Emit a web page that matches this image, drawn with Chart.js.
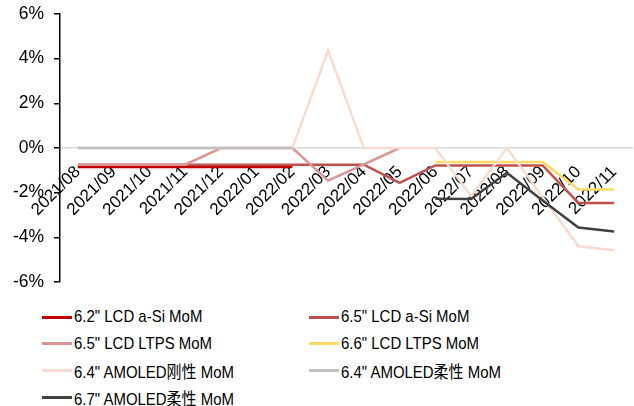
<!DOCTYPE html>
<html>
<head>
<meta charset="utf-8">
<script src="https://cdn.jsdelivr.net/npm/chart.js@4"></script>
<style>
  html, body { margin: 0; padding: 0; background: #fff; }
  #wrap { position: relative; width: 634px; height: 406px; }
  #c { position: absolute; left: 0; top: 0; }
  #legend { position: absolute; left: 42px; top: 304px; width: 592px;
    font-family: "Liberation Sans", Arial, "Noto Sans CJK SC", sans-serif; font-size: 17px; color: #000; }
  .item { position: absolute; height: 26px; display: flex; align-items: center; white-space: nowrap; }
  .swatch { width: 30px; height: 3px; margin-right: 2px; flex: none; }
  .txt { display: inline-block; transform: scaleX(0.88); transform-origin: left center; }
</style>
</head>
<body>
<div id="wrap">
  <canvas id="c" width="634" height="300"></canvas>
  <div id="legend"></div>
</div>
<script>
const categories = ["2021/08","2021/09","2021/10","2021/11","2021/12","2022/01","2022/02","2022/03","2022/04","2022/05","2022/06","2022/07","2022/08","2022/09","2022/10","2022/11"];
const yTicks = [-6, -4, -2, 0, 2, 4, 6];

const lcd62aSi   = [-0.85,-0.85,-0.85,-0.85,-0.85,-0.85,-0.85,null,null,null,null,null,null,null,null,null];
const lcd65aSi   = [-0.75,-0.75,-0.75,-0.75,-0.75,-0.75,-0.75,-0.75,-0.75,-1.56,-0.78,-0.78,-0.78,-0.78,-2.46,-2.46];
const lcd65ltps  = [-0.75,-0.75,-0.75,-0.75,0,0,0,-1.46,-0.73,0,null,null,null,null,null,null];
const lcd66ltps  = [null,null,null,null,null,null,null,null,null,null,-0.63,-0.63,-0.63,-0.63,-1.86,-1.86];
const amoled64rigid = [0,0,0,0,0,0,0,4.36,0,0,0,-2.16,0,-2.2,-4.4,-4.58];
const amoled64flex  = [0,0,0,0,0,0,0,null,null,null,null,null,null,null,null,null];
const amoled67flex  = [null,null,null,null,null,null,null,null,null,null,-2.27,-2.28,-1.11,-2.35,-3.56,-3.74];

const seriesNames = ['6.2" LCD a-Si MoM','6.5" LCD a-Si MoM','6.5" LCD LTPS MoM','6.6" LCD LTPS MoM','6.4" AMOLED刚性 MoM','6.4" AMOLED柔性 MoM','6.7" AMOLED柔性 MoM'];
const seriesData = [lcd62aSi, lcd65aSi, lcd65ltps, lcd66ltps, amoled64rigid, amoled64flex, amoled67flex];
const seriesColors = ['#C00000','#C0504D','#D99694','#FFD966','#F6DBD0','#BFBFBF','#404040'];

const FONT = '"Liberation Sans", Arial, sans-serif';

const datasets = seriesNames.map((n, i) => ({
  label: n,
  data: seriesData[i],
  borderColor: seriesColors[i],
  backgroundColor: seriesColors[i],
  borderWidth: 2.5,
  pointRadius: 0,
  pointHoverRadius: 0,
  tension: 0,
  fill: false,
  spanGaps: false,
  order: seriesNames.length - 1 - i
}));

new Chart(document.getElementById('c'), {
  type: 'line',
  data: { labels: categories, datasets },
  options: {
    responsive: false,
    animation: false,
    layout: { padding: { top: 14, right: 2, bottom: 18, left: 0 } },
    plugins: { legend: { display: false }, tooltip: { enabled: false } },
    scales: {
      x: {
        type: 'category',
        position: { y: 0 },
        offset: true,
        afterFit: (s) => { s.paddingLeft = 0; s.paddingRight = 0; },
        grid: { display: false, drawTicks: false },
        border: { display: true, color: '#D9D9D9', width: 1.5 },
        ticks: {
          autoSkip: false, maxRotation: 45, minRotation: 45,
          color: '#000', padding: 14,
          font: { family: FONT, size: 17 }
        }
      },
      y: {
        min: -6, max: 6,
        afterFit: (s) => { s.width = 60; s.paddingTop = 0; s.paddingBottom = 0; },
        afterBuildTicks: (s) => { s.ticks = yTicks.map(v => ({ value: v })); },
        grid: { drawOnChartArea: false, drawTicks: true, tickLength: 6, color: '#000', lineWidth: 1.5 },
        border: { display: true, color: '#000', width: 1.5 },
        ticks: {
          color: '#000', padding: 10,
          font: { family: FONT, size: 17.5 },
          callback: (v) => v + '%'
        }
      }
    }
  }
});

// HTML legend in two columns
const legend = document.getElementById('legend');
seriesNames.forEach((n, i) => {
  const col = i % 2, row = Math.floor(i / 2);
  const d = document.createElement('div');
  d.className = 'item';
  d.style.left = (col * 267) + 'px';
  d.style.top = (row * 26.7) + 'px';
  const sw = document.createElement('span');
  sw.className = 'swatch';
  sw.style.background = seriesColors[i];
  const t = document.createElement('span');
  t.className = 'txt';
  t.textContent = n;
  d.appendChild(sw); d.appendChild(t);
  legend.appendChild(d);
});
</script>
</body>
</html>
